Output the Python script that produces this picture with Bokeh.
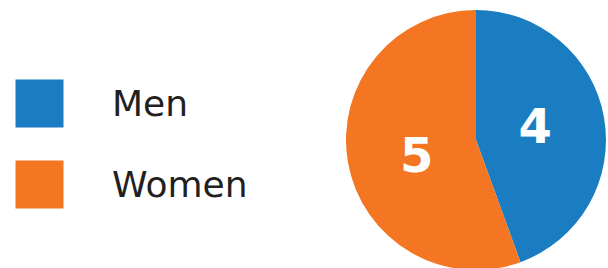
import math
from bokeh.plotting import figure
from bokeh.models import Legend, LegendItem, ColumnDataSource
from bokeh.embed import file_html
from bokeh.resources import INLINE

categories = ["Men", "Women"]
counts = [4, 5]
colors = ["#1b7dc1", "#f47623"]

total = sum(counts)
starts, ends, mids = [], [], []
a = math.pi / 2
for c in counts:
    span = 2 * math.pi * c / total
    # clockwise from top
    starts.append(a - span)
    ends.append(a)
    mids.append(a - span / 2 + 0.07)
    a -= span

cx, cy, R = 475.5, 128.5, 130
src = ColumnDataSource(dict(cat=categories, val=counts, color=colors,
                            start=starts, end=ends,
                            lx=[cx + 0.47 * R * math.cos(m) for m in mids],
                            ly=[cy + 0.47 * R * math.sin(m) for m in mids],
                            txt=[str(v) for v in counts]))

p = figure(width=608, height=268, x_range=(0, 608), y_range=(0, 268),
           output_backend="svg", toolbar_location=None, min_border=0)
p.axis.visible = False
p.grid.visible = False
p.outline_line_color = None
p.background_fill_color = "white"

r = p.wedge(x=cx, y=cy, radius=R, start_angle="start", end_angle="end",
            fill_color="color", line_color=None, source=src)
p.text(x="lx", y="ly", text="txt", source=src, text_color="white",
       text_font_size="48px", text_align="center", text_baseline="middle",
       text_font={"value": "DejaVu Sans"}, text_font_style="bold")

legend = Legend(items=[LegendItem(label=categories[i], renderers=[r], index=i) for i in range(len(categories))],
                location=(9, 54), glyph_width=60, glyph_height=60,
                label_text_font_size="36px", label_text_font="DejaVu Sans",
                label_text_color="#231f20", label_standoff=43, spacing=21,
                padding=0, margin=0, border_line_color=None,
                background_fill_alpha=0, label_text_baseline="middle")
p.add_layout(legend, "center")

open("out.html", "w").write(file_html(p, INLINE))
